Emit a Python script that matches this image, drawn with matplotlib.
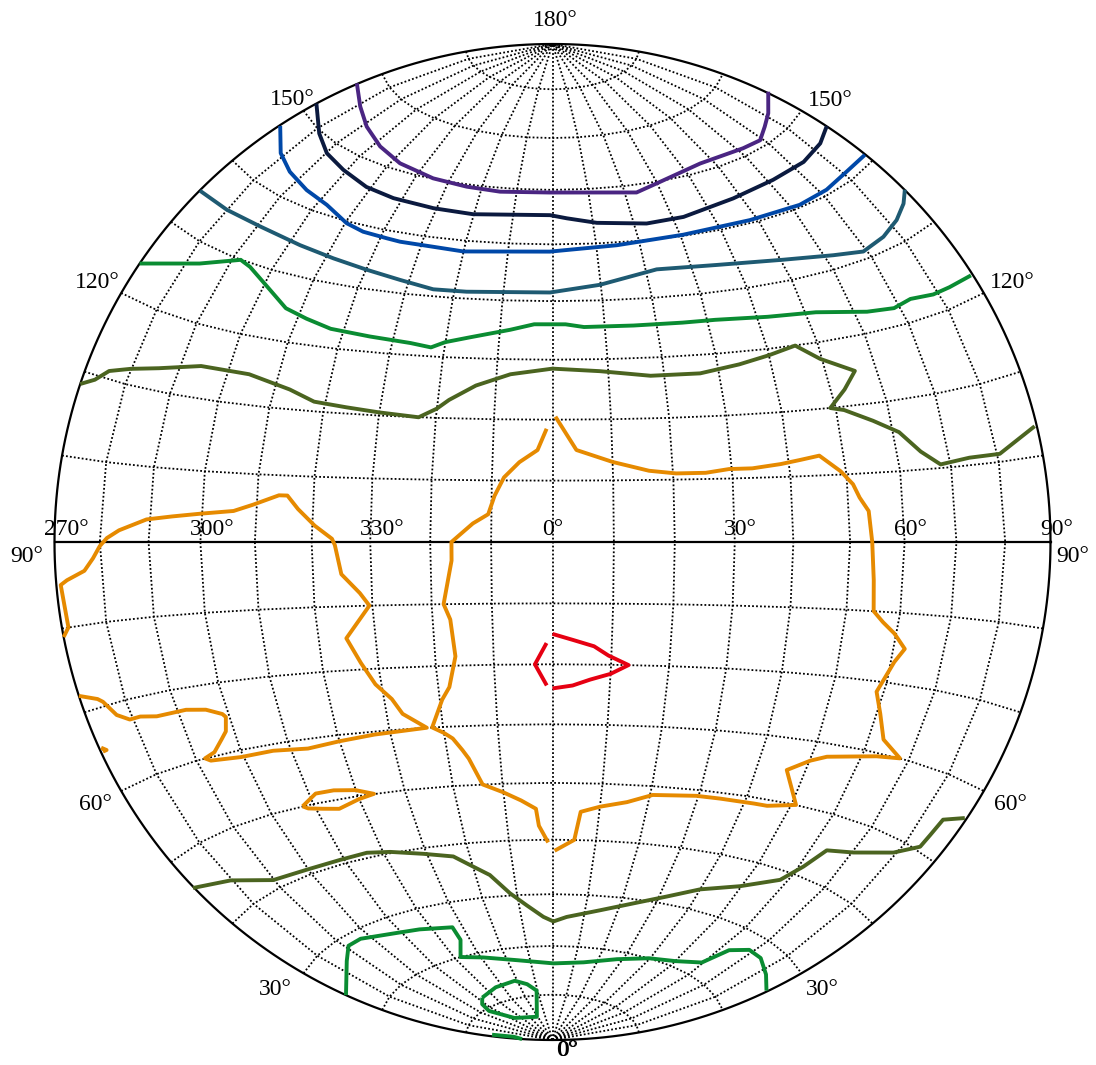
import numpy as np
from matplotlib import pyplot as plt

# contour lines, (longitude, colatitude) in degrees; longitude < 0 is 270..360
purple = [(-90.4,156.9),(-77.9,155.7),(-67.7,154.2),(-57.2,152.6),(-47.1,151.2),(-34.8,150.1),(-24.3,149.6),(-14.6,149.3),(-0.7,149.5),(23.2,148.6),(29.8,149.7),(45.7,151.4),(61.7,151.2),(68.8,151.0),(74.8,152.1),(81.0,153.0),(90.7,154.4)]
navy = [(-90.0,151.7),(-77.7,149.7),(-69.4,148.2),(-60.7,147.2),(-51.0,146.0),(-42.1,145.4),(-30.6,145.0),(-20.1,144.8),(-0.6,145.3),(3.6,144.7),(10.9,143.7),(23.0,142.9),(32.6,143.2),(47.5,144.5),(61.2,145.2),(73.3,145.4),(82.8,145.9),(90.1,146.6)]
blue = [(-89.7,146.8),(-80.8,144.7),(-73.5,143.5),(-65.1,142.4),(-57.3,141.5),(-49.6,139.7),(-44.6,139.0),(-38.4,138.7),(-35.0,138.5),(-27.1,138.4),(-20.0,138.1),(-0.6,138.7),(14.7,139.5),(30.7,140.2),(48.1,140.5),(62.4,140.4),(71.9,140.7),(81.0,141.2),(89.8,141.1)]
teal = [(-89.9,134.9),(-79.6,135.1),(-68.9,135.2),(-57.0,134.6),(-48.0,133.9),(-39.7,133.1),(-31.8,132.2),(-24.4,131.2),(-17.5,131.2),(-0.5,131.5),(9.8,132.7),(22.3,134.8),(35.5,134.4),(50.4,133.3),(61.9,132.0),(69.0,131.1),(75.8,131.8),(81.8,132.8),(86.7,133.9),(90.1,135.0)]
green_a = [(-90,124),(-76.5,127.5),(-68,130),(-65,129.5),(-59,127.5),(-53,125),(-48,124),(-42.5,123),(-34.5,122.5),(-26.5,122),(-22.5,121.5),(-20,122.5),(-15.5,123.5),(-8,125),(-3.5,126),(2.5,126),(6,125.5),(15.5,125.5),(25,125.5),(31.5,125.5),(42,125),(52,124.5),(62.5,123),(68.5,122.5),(73,123),(78.5,122.5),(83,122.5),(89.5,122.5)]
green_b = [(-90,24.5),(-74.5,27),(-68.5,28.5),(-63,28.5),(-50,27),(-43.5,26.5),(-33,25.5),(-33,23),(-37.5,20),(-29,19),(-15.5,17.5),(0.5,16.5),(14,17),(27.5,18.5),(39.5,20),(50,21),(59,22.5),(60,23.5),(62.5,26),(68,27.5),(74,27.5),(82,26.5),(89.5,25.5)]
green_c = [(-46.5,12),(-33.5,13),(-21,13.5),(-15,12.5),(-10.5,11),(-20,5.5),(-44.5,6.5),(-54,9.5),(-51.5,11),(-46.5,12)]
green_d = [(-87,7),(-85,4.5),(-90,3.5)]
olive_a = [(-90,108.5),(-87,109.5),(-84.5,111),(-80,112),(-74,113),(-65.5,114.5),(-55.5,114.5),(-47,113),(-42,111.5),(-36,111),(-30,110.5),(-23,110),(-20,111.5),(-18,113),(-13.5,115.5),(-7.5,117.5),(0,118.5),(8.5,118),(17.5,117),(26.5,117),(34,118),(40,119),(45.5,120),(49.5,117.5),(55.5,115),(52.5,112.5),(49,110),(51.5,109.5),(56.5,107.5),(61,105.5),(64.5,102.5),(68,100.5),(74,101),(80.5,101),(85.5,102.5),(89.5,103.5)]
olive_b = [(-90.3,46.1),(-80,44),(-70.1,41.3),(-60.4,40.8),(-51.0,40.7),(-43.8,40.8),(-38.3,40.2),(-30.8,39.0),(-23.9,37.9),(-20.5,36.1),(-16.2,34.0),(-11.9,30.4),(-7.7,28.0),(-2.9,25.7),(0.3,24.8),(4.5,25.7),(14.5,27.3),(23.6,29.2),(32.0,31.3),(39.7,33.6),(49.3,35.7),(57.9,38.5),(61.0,41.5),(63.6,44.8),(70.0,45.9),(79.0,48.2),(84.0,50.5),(84.3,52.3),(84.8,54.7),(89.5,56.2)]
orange_a = [(-1,108.5),(-2.5,105),(-5.5,103),(-8,100.5),(-9.5,97.5),(-10.5,94.5),(-13,93),(-16.5,90),(-16.5,87),(-18,80),(-17,77.5),(-16.5,71.5),(-18,66.5),(-19.5,64.5),(-22,60),(-20,59),(-18.5,58),(-17,56),(-16,54.5),(-14,50),(-10,48.5),(-6.5,47),(-3.5,45.5),(-3,42.5),(-1,39.5)]
orange_b = [(0.5,38),(5,40),(6,45),(10,46),(15.5,47),(20.5,48.5),(29.5,49),(34.5,49),(42,49),(45,49),(51,50),(46,55),(50,57),(53,58),(63,59.5),(68,60),(63,62),(60.5,65.5),(58.5,68.5),(60.5,73),(62,75),(59.5,77),(57,78.5),(55,80),(54.5,84.5),(54,90),(53.5,94.5),(52,96.5),(51,98.5),(49,100.5),(45.5,103),(42,102.5),(38.5,102),(33.5,101.5),(29.5,101.5),(25.5,101),(20.5,101),(16,101.5),(10,103),(4,105),(0.5,110.5)]
orange_c = [(-90,79),(-88.5,80),(-89,85),(-87.5,85.5),(-83.5,86.5),(-81.5,88),(-80,89.5),(-78.5,90.5),(-76,91.5),(-70.5,93),(-65.5,93.5),(-60,94),(-54,94.5),(-50.5,95.5),(-46,97),(-44.5,97),(-42.5,95),(-39.5,92.5),(-36.5,90.5),(-36,89.5),(-35,85),(-32,82),(-30.5,80),(-35,75),(-33,71),(-31,67.5),(-28.5,65),(-27,62.5),(-23,60),(-33,59.5),(-40,59),(-46.5,58.5),(-53.5,59),(-60.5,59),(-67,59.5),(-68,60),(-65.5,60.5),(-63,62),(-61.5,63),(-60.5,65),(-61,65.5),(-64,66.5),(-68,67),(-74.5,67),(-78,67.5),(-80.5,67.5),(-83,68.5),(-85,70.5),(-86,71),(-90,72)]
orange_d = [(-89.5,65.5),(-88.5,65),(-89.5,65)]
orange_e = [(-52.5,50),(-48.5,51.5),(-44.5,51.5),(-40,51),(-36.5,50),(-40,49.5),(-45,48.5),(-48.5,49),(-51.5,49.5),(-52.5,50)]
red_l = [(-1,73.5),(-3,70),(-1,66.5)]
red_r = [(0,75),(3.5,74),(7,73),(9.5,71.5),(13,70),(10,68.5),(6.5,67.5),(3.5,66.5),(0,66)]

# axis labels
lon_ticks = [-90, -60, -30, 0, 30, 60, 90]
lon_labels = ['270°', '300°', '330°', '0°', '30°', '60°', '90°']
colat_ticks = [150, 120, 90, 60, 30]

contours = [(purple, '#4a2582'), (navy, '#0b1a3f'), (blue, '#0048a8'), (teal, '#1e5a72'),
            (green_a, '#0a8c32'), (green_b, '#0a8c32'), (green_c, '#0a8c32'), (green_d, '#0a8c32'),
            (olive_a, '#4b6420'), (olive_b, '#4b6420'),
            (orange_a, '#e68a00'), (orange_b, '#e68a00'), (orange_c, '#e68a00'),
            (orange_d, '#e68a00'), (orange_e, '#e68a00'),
            (red_l, '#e60012'), (red_r, '#e60012')]

CX, CY, R = 552.5, 542.0, 498.0   # where the net sits in the 1096x1065 picture
S2 = np.sqrt(2.0)


# equal-area (Schmidt) projection, pole axis vertical, net radius 1
def proj(lon, colat):
    lam = np.radians(np.asarray(lon, float))
    phi = np.radians(np.asarray(colat, float) - 90)
    k = np.sqrt(2 / (1 + np.cos(phi) * np.cos(lam)))
    return k * np.cos(phi) * np.sin(lam) / S2, k * np.sin(phi) / S2


fig = plt.figure(figsize=(10.96, 10.65), dpi=100)
ax = fig.add_axes([0, 0, 1, 1])
ax.set_xlim(-CX / R, (1096 - CX) / R)
ax.set_ylim((CY - 1065) / R, CY / R)
ax.axis('off')

# dotted grid every 10 degrees
dots = (0, (1, 1.2))
grid = np.arange(0, 181, 10)
for lon in range(-80, 81, 10):
    x, y = proj(np.full(grid.size, lon), grid)
    ax.plot(x, y, color='black', lw=1.3, ls=dots)
lons = np.arange(-90, 91, 10)
for colat in range(10, 171, 10):
    if colat == 90:
        continue
    x, y = proj(lons, np.full(lons.size, colat))
    ax.plot(x, y, color='black', lw=1.3, ls=dots)

t = np.linspace(0, 2 * np.pi, 721)
ax.plot(np.cos(t), np.sin(t), color='black', lw=1.6)
x, y = proj([-90, 90], [90, 90])
ax.plot(x, y, color='black', lw=1.6)

for pts, col in contours:
    lo, co = zip(*pts)
    x, y = proj(lo, co)
    ax.plot(x, y, color=col, lw=2.8, solid_capstyle='butt')

font = dict(family='Liberation Serif', fontsize=17)
for lon, lab in zip(lon_ticks, lon_labels):
    x, y = proj(lon, 90)
    ax.annotate(lab, (x, y), xytext=(-10.5, 7), textcoords='offset pixels',
                ha='left', va='baseline', **font)

# pixel offsets of the colatitude labels from the rim, (left dx, dy, right dx, dy)
offsets = [(-11.5, 11.7, 28.5, 10.7), (-24.2, 11, 28.2, 11), (-28, -14.5, 22.5, -14.5),
           (-26.2, -14, 26.2, -14), (-28.5, -16.7, 20.5, -16.7)]
for co, (dxl, dyl, dxr, dyr) in zip(colat_ticks, offsets):
    for side, dx, dy in [(-1, dxl, dyl), (1, dxr, dyr)]:
        x, y = proj(90 * side, co)
        ax.annotate('%d°' % co, (x, y), xytext=(dx, dy), textcoords='offset pixels',
                    ha='center', va='center', **font)
x, y = proj(0, 180)
ax.annotate('180°', (x, y), xytext=(2.5, 24), textcoords='offset pixels', ha='center', va='center', **font)
x, y = proj(0, 0)
for dx in (14.5, 15.5):
    ax.annotate('0°', (x, y), xytext=(dx, -11), textcoords='offset pixels', ha='center', va='center', **font)

fig.savefig('out.png', dpi=100)
